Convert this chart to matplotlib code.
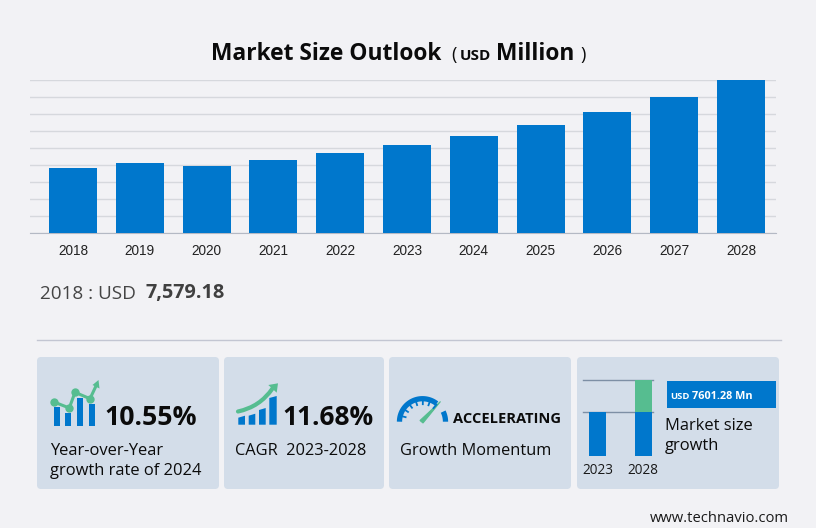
import numpy as np
import matplotlib.pyplot as plt
from matplotlib.patches import FancyBboxPatch, Rectangle, Polygon, FancyArrowPatch

plt.rcParams["font.family"] = ["Open Sans", "DejaVu Sans"]

years = ["2018", "2019", "2020", "2021", "2022", "2023", "2024", "2025", "2026", "2027", "2028"]
market_size = [7579.18, 8170, 7820, 8520, 9340, 10270, 11380, 12660, 14120, 15870, 17871]
grid_step = 17871 / 9

mini_years = ["2023", "2028"]
mini_base = [10270, 10270]
mini_growth = [0, 7601.28]

icon1_bar_tops = [407.3, 412.7, 397.7, 404]
icon1_line_x = [54, 69.3, 75, 90]
icon1_line_y = [402, 408, 392.3, 398.7]
icon2_bar_tops = [417.7, 415.7, 410, 398]

BG = "#f2f2f5"
CARD = "#d3dde9"
BLUE = "#0077cc"
GREEN = "#56bd90"
INK = "#0b0b0b"

W, H = 816, 528
fig = plt.figure(figsize=(W / 100, H / 100), dpi=100, facecolor=BG)


def axes_px(x0, y0, x1, y1):
    return fig.add_axes([x0 / W, 1 - y1 / H, (x1 - x0) / W, (y1 - y0) / H])


# pixel overlay for the cards, icons and text
page = fig.add_axes([0, 0, 1, 1], zorder=0)
page.set_xlim(0, W)
page.set_ylim(H, 0)
page.axis("off")


def label(x, y, s, size, weight="normal", color=INK, ha="left"):
    page.text(x, y, s, fontsize=size, fontweight=weight, color=color, ha=ha, va="baseline")


# main chart
ax = axes_px(30, 80, 776, 233)
ax.set_facecolor("none")
ax.bar(range(len(years)), market_size, width=0.72, color=BLUE, zorder=3)
ax.set_xlim(-0.644, 10.524)
ax.set_ylim(0, max(market_size))
ax.set_yticks(np.arange(0, 10) * grid_step)
ax.set_xticks(range(len(years)), years)
ax.tick_params(length=0, labelleft=False)
ax.tick_params(axis="x", pad=8, labelsize=9.8, labelcolor="#222222")
for t in ax.get_xticklabels():
    t.set_family(["Liberation Sans"])
ax.grid(axis="y", color="#d6d8dd", linewidth=1, zorder=0)
for s in ["top", "left", "right"]:
    ax.spines[s].set_visible(False)
ax.spines["bottom"].set_color("#b4b9c4")

# heading
label(211, 60, "Market Size Outlook", 16.4, "bold")
label(451, 60, "(", 13, "normal")
label(460, 60, "USD", 11, "bold")
label(496, 60, "Million", 16.4, "bold")
label(580, 60, ")", 13, "normal")

label(40, 299, "2018 : USD", 13.6, color="#454545")
label(145, 298, "7,579.18", 14.3, "bold", "#404040")
page.plot([37, 781], [340, 340], color="#c3c6d2", lw=1)

# cards
for x0, x1 in [(37, 219), (224, 384), (389, 571), (577, 779)]:
    page.add_patch(FancyBboxPatch((x0 + 4, 361), x1 - x0 - 8, 124, boxstyle="round,pad=4,rounding_size=4",
                                  fc=CARD, ec="none"))

# card 1
for x0, top in zip([54, 65.3, 77, 88.7], icon1_bar_tops):
    page.add_patch(Rectangle((x0, top), 6, 426 - top, fc=BLUE, ec="none"))
page.plot(icon1_line_x + [96], icon1_line_y + [386], color=GREEN, lw=2.2, zorder=4)
page.scatter(icon1_line_x, icon1_line_y, s=36, color=GREEN, zorder=4, linewidths=0)
page.add_patch(Polygon([(98.5, 380), (92.5, 385), (99.5, 388.5)], fc=GREEN, ec="none", zorder=4))
label(104, 425, "10.55%", 19.2, "bold")
label(50, 455, "Year-over-Year", 11.9)
label(50, 475, "growth rate of 2024", 11.9)

# card 2
for x0, x1, top in zip([238.3, 248.7, 259, 269.3], [245, 255.3, 265.7, 276.7], icon2_bar_tops):
    page.add_patch(Polygon([(x0, 424.7), (x1, 424.7), (x1, top - 2), (x0, top)], fc=BLUE, ec="none"))
page.add_patch(FancyArrowPatch((238, 411.5), (272.5, 388.5), connectionstyle="arc3,rad=0.2", arrowstyle="-",
                               color=GREEN, lw=3, shrinkA=0, shrinkB=0))
page.add_patch(Polygon([(278, 383.3), (268.3, 385), (276.7, 392.7)], fc=GREEN, ec="none"))
label(282, 425, "11.68%", 19.0, "bold")
label(235, 455, "CAGR  2023-2028", 11.8)

# card 3
cx, cy = 422.5, 421.7
for a0, a1 in [(-180, -52), (-26, 0)]:
    angles = np.radians(np.linspace(a0, a1, 50))
    page.plot(cx + 23 * np.cos(angles), cy + 23 * np.sin(angles), color=BLUE, lw=3.8, solid_capstyle="butt")
for a in np.radians(np.arange(-165, -50, 19)):
    page.plot([cx + 17.5 * np.cos(a), cx + 22 * np.cos(a)], [cy + 17.5 * np.sin(a), cy + 22 * np.sin(a)],
              color=BLUE, lw=1.3)
page.add_patch(Polygon([(420, 420.5), (423, 423), (440.5, 401.5)], fc=GREEN, ec=GREEN, lw=0.8))
label(453, 423, "ACCELERATING", 10.5, "bold")
label(400, 455, "Growth Momentum", 11.8)

# card 4, mini chart
page.plot([583, 653], [380, 380], color="#7d8fa5", lw=1, zorder=2)
page.plot([583, 653], [412.3, 412.3], color="#7d8fa5", lw=1, zorder=2)
mini = axes_px(583, 380, 653, 456)
mini.set_facecolor("none")
mini.bar([0, 1], mini_base, width=0.372, color=BLUE, zorder=3)
mini.bar([0, 1], mini_growth, bottom=mini_base, width=0.372, color=GREEN, zorder=3)
mini.set_xlim(-0.317, 1.215)
mini.set_ylim(0, mini_base[1] + mini_growth[1])
mini.set_xticks([0, 1], mini_years)
mini.set_yticks([])
mini.tick_params(length=0, pad=5, labelsize=9.8, labelcolor="#1a1a1a")
for s in mini.spines.values():
    s.set_visible(False)

page.add_patch(Rectangle((667, 381), 109, 26.7, fc=BLUE, ec="none"))
label(670, 399, "USD", 6.8, "bold", "white")
label(692, 399, "7601.28 Mn", 7.8, "bold", "white")
label(665, 430, "Market size", 11.9)
label(665, 450, "growth", 11.9)

label(789, 522, "www.technavio.com", 10.6, ha="right", color="#1a1a1a")

fig.savefig("out.png", dpi=100, facecolor=BG)
